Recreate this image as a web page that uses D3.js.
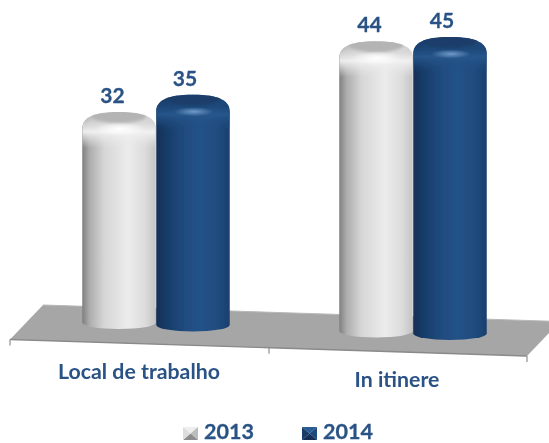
<!DOCTYPE html>
<html>
<head>
<meta charset="utf-8">
<script src="https://cdnjs.cloudflare.com/ajax/libs/d3/7.8.5/d3.min.js"></script>
<style>html,body{margin:0;padding:0;background:#fff;overflow:hidden}</style>
</head>
<body>
<svg id="c" width="549" height="443"></svg>
<script>
const categories = ["Local de trabalho", "In itinere"];
const seriesNames = ["2013", "2014"];
const values2013 = [32, 44];
const values2014 = [35, 45];

const W = 549, H = 443;
const svg = d3.select("#c").attr("viewBox", `0 0 ${W} ${H}`);
const defs = svg.append("defs");
const TEXT = "#2a5285";
const FONT = "Lato, 'Open Sans', sans-serif";

const x0 = d3.scaleBand().domain(categories).range([11, 525]).paddingInner(0).paddingOuter(0);
const x1 = d3.scaleBand().domain(seriesNames).range([71, 219]);   // offset within a category
const heightScale = d3.scaleLinear().domain([32, 45]).range([217, 303]);
const baseY = d3.scaleLinear().domain([118, 450]).range([329, 340]);

function grad(id, stops, vertical) {
  const g = defs.append("linearGradient").attr("id", id)
    .attr("x1", 0).attr("y1", 0).attr("x2", vertical ? 0 : 1).attr("y2", vertical ? 1 : 0);
  stops.forEach(s => g.append("stop").attr("offset", s[0]).attr("stop-color", s[1]).attr("stop-opacity", s[2] === undefined ? 1 : s[2]));
}
grad("body2013", [[0,"#7f7f7f"],[0.1,"#adadad"],[0.3,"#d6d6d6"],[0.62,"#ececec"],[0.85,"#dcdcdc"],[1,"#c4c4c4"]]);
grad("body2014", [[0,"#112f55"],[0.14,"#173c69"],[0.4,"#204c80"],[0.6,"#245287"],[0.85,"#1f4b7e"],[1,"#193f6e"]]);
grad("sh2013", [[0,"#d6d6d6",0],[0.3,"#d8d8d8",0.85],[0.55,"#f2f2f2",0.95],[1,"#e6e6e6",0]], true);
grad("sh2014", [[0,"#1e4a7c",0],[0.3,"#1d4778",0.85],[0.55,"#27568c",0.95],[1,"#1f4b7e",0]], true);
const cap = {2013:"#b4b4b4", 2014:"#1a3e69"};
const glow = {2013:"#ffffff", 2014:"#6f9bc8"};
seriesNames.forEach(s => {
  const r = defs.append("radialGradient").attr("id", "glow" + s);
  r.append("stop").attr("offset", 0).attr("stop-color", glow[s]).attr("stop-opacity", 1);
  r.append("stop").attr("offset", 1).attr("stop-color", glow[s]).attr("stop-opacity", 0);
});
defs.append("filter").attr("id", "soft").attr("x", "-5%").attr("y", "-5%").attr("width", "110%").attr("height", "110%")
  .append("feGaussianBlur").attr("stdDeviation", 0.5);
defs.append("filter").attr("id", "capblur").attr("x", "-20%").attr("y", "-40%").attr("width", "140%").attr("height", "180%")
  .append("feGaussianBlur").attr("stdDeviation", 1.4);

const root = svg.append("g").attr("filter", "url(#soft)");

// floor plane
const FL = 10, FR = 527;
const frontY = d3.scaleLinear().domain([FL, FR]).range([339.5, 356]);
const floorPts = [[FL, frontY(FL)], [43, 305], [560, 321.5], [FR, frontY(FR)]];
root.append("path").attr("d", d3.line()(floorPts) + "Z").attr("fill", "#a6a6a6");
root.append("path").attr("d", d3.line()([floorPts[0], floorPts[3]])).attr("fill", "none")
  .attr("stroke", "#8a8a8a").attr("stroke-width", 1.4);
root.append("path").attr("d", d3.line()([floorPts[1], floorPts[2]])).attr("fill", "none")
  .attr("stroke", "#b8b8b8").attr("stroke-width", 1);
[FL, (FL + FR) / 2 + 0.5, FR].forEach(tx => {
  root.append("line").attr("x1", tx).attr("x2", tx).attr("y1", frontY(tx)).attr("y2", frontY(tx) + 6)
    .attr("stroke", "#8f8f8f").attr("stroke-width", 1.2);
});

// cylinders
const rows = categories.flatMap((c, i) => [
  {c, s: "2013", v: values2013[i], i},
  {c, s: "2014", v: values2014[i], i}
]);
const bw = 73.5;
function cx(d) {
  return x0(d.c) + x1(d.s) + x1.bandwidth() / 2;
}
const bars = root.selectAll("g.bar").data(rows).join("g").attr("class", "bar");
bars.each(function (d, k) {
  const g = d3.select(this);
  const c = cx(d), L = c - bw / 2, R = c + bw / 2;
  const bottom = baseY(c), top = bottom - heightScale(d.v);
  const ry = 6.5, sy = 17;
  const p = `M${L},${bottom - ry}L${L},${top + sy}C${L},${top + 6} ${L + 10},${top} ${c},${top}` +
            `C${R - 10},${top} ${R},${top + 6} ${R},${top + sy}L${R},${bottom - ry}` +
            `A${bw / 2},${ry} 0 0 1 ${L},${bottom - ry}Z`;
  const id = "clip" + k;
  defs.append("clipPath").attr("id", id).append("path").attr("d", p);
  g.append("path").attr("d", p).attr("fill", `url(#body${d.s})`);
  const ov = g.append("g").attr("clip-path", `url(#${id})`);
  ov.append("rect").attr("x", L).attr("width", bw).attr("y", top).attr("height", 36).attr("fill", `url(#sh${d.s})`);
  ov.append("ellipse").attr("cx", c).attr("cy", top + 4).attr("rx", bw / 2 - 9).attr("ry", 7)
    .attr("fill", cap[d.s]).attr("filter", "url(#capblur)");
  ov.append("ellipse").attr("cx", c + 1).attr("cy", top + 17).attr("rx", d.s === "2013" ? 26 : 20).attr("ry", d.s === "2013" ? 7 : 4.5)
    .attr("fill", `url(#glow${d.s})`);
  g.append("text").attr("x", c + (d.s === "2013" ? -6.5 : -8)).attr("y", top - 9)
    .attr("text-anchor", "middle").attr("font-family", FONT).attr("font-weight", 700)
    .attr("font-size", 21).attr("fill", TEXT).attr("stroke", TEXT).attr("stroke-width", 0.3).text(d.v);
});

// category labels
const catY = [379, 387];
const catX = [139, 397];
root.selectAll("text.cat").data(categories).join("text").attr("class", "cat")
  .attr("x", (d, i) => catX[i]).attr("y", (d, i) => catY[i])
  .attr("text-anchor", "middle").attr("font-family", FONT).attr("font-weight", 700)
  .attr("font-size", 21.3).attr("fill", TEXT).text(d => d);

// legend
const legX = {2013: 183, 2014: 302};
seriesNames.forEach(s => {
  const g = root.append("g").attr("transform", `translate(${legX[s]},427)`);
  const a = 15, b = 13;
  const m = [a / 2, b / 2];
  const shades = s === "2013"
    ? ["#eeeeee", "#bdbdbd", "#8c8c8c", "#dddddd"]
    : ["#2b5c94", "#1e4a7e", "#122f55", "#173c69"];
  [[[0,0],[a,0],m],[[a,0],[a,b],m],[[a,b],[0,b],m],[[0,b],[0,0],m]].forEach((t, i) => {
    g.append("path").attr("d", d3.line()(t) + "Z").attr("fill", shades[i]);
  });
  g.append("text").attr("x", a + 6).attr("y", 12).attr("font-family", FONT).attr("font-weight", 700)
    .attr("font-size", 21.5).attr("fill", TEXT).attr("stroke", TEXT).attr("stroke-width", 0.3).text(s);
});
</script>
</body>
</html>
